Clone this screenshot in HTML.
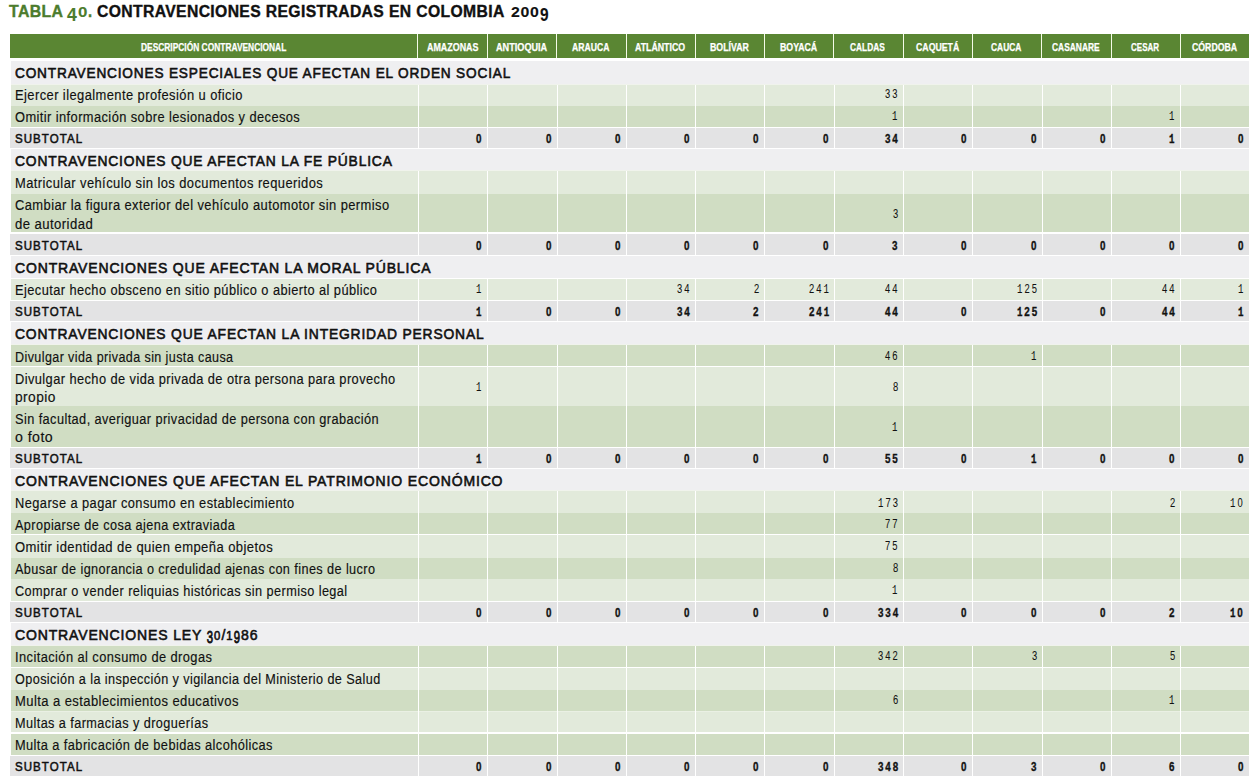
<!DOCTYPE html><html><head><meta charset="utf-8"><style>
html,body{margin:0;padding:0;background:#fff;width:1255px;height:782px;overflow:hidden;position:relative}
.r{position:absolute}
.t{position:absolute;white-space:nowrap;transform-origin:0 0}
.s{font-family:"Liberation Sans",sans-serif}.m{font-family:"Liberation Mono",monospace}
</style></head><body>
<div class="r" style="left:10px;top:34px;width:1239px;height:24px;background:#5a8633"></div>
<div class="r" style="left:417px;top:34px;width:1px;height:24px;background:#f4fbe8"></div>
<div class="r" style="left:487px;top:34px;width:1px;height:24px;background:#f4fbe8"></div>
<div class="r" style="left:556px;top:34px;width:1px;height:24px;background:#f4fbe8"></div>
<div class="r" style="left:626px;top:34px;width:1px;height:24px;background:#f4fbe8"></div>
<div class="r" style="left:695px;top:34px;width:1px;height:24px;background:#f4fbe8"></div>
<div class="r" style="left:764px;top:34px;width:1px;height:24px;background:#f4fbe8"></div>
<div class="r" style="left:833px;top:34px;width:1px;height:24px;background:#f4fbe8"></div>
<div class="r" style="left:903px;top:34px;width:1px;height:24px;background:#f4fbe8"></div>
<div class="r" style="left:972px;top:34px;width:1px;height:24px;background:#f4fbe8"></div>
<div class="r" style="left:1041px;top:34px;width:1px;height:24px;background:#f4fbe8"></div>
<div class="r" style="left:1111px;top:34px;width:1px;height:24px;background:#f4fbe8"></div>
<div class="r" style="left:1180px;top:34px;width:1px;height:24px;background:#f4fbe8"></div>
<div class="r" style="left:11px;top:61px;width:1238px;height:23px;background:#efeff1"></div>
<div class="r" style="left:11px;top:85px;width:407px;height:21px;background:#e2eadb"></div>
<div class="r" style="left:419px;top:85px;width:68px;height:21px;background:#e2eadb"></div>
<div class="r" style="left:488px;top:85px;width:69px;height:21px;background:#e2eadb"></div>
<div class="r" style="left:558px;top:85px;width:68px;height:21px;background:#e2eadb"></div>
<div class="r" style="left:627px;top:85px;width:68px;height:21px;background:#e2eadb"></div>
<div class="r" style="left:696px;top:85px;width:68px;height:21px;background:#e2eadb"></div>
<div class="r" style="left:765px;top:85px;width:69px;height:21px;background:#e2eadb"></div>
<div class="r" style="left:835px;top:85px;width:68px;height:21px;background:#e2eadb"></div>
<div class="r" style="left:904px;top:85px;width:68px;height:21px;background:#e2eadb"></div>
<div class="r" style="left:973px;top:85px;width:69px;height:21px;background:#e2eadb"></div>
<div class="r" style="left:1043px;top:85px;width:68px;height:21px;background:#e2eadb"></div>
<div class="r" style="left:1112px;top:85px;width:68px;height:21px;background:#e2eadb"></div>
<div class="r" style="left:1181px;top:85px;width:68px;height:21px;background:#e2eadb"></div>
<div class="r" style="left:11px;top:106px;width:407px;height:21px;background:#d0ddc3"></div>
<div class="r" style="left:419px;top:106px;width:68px;height:21px;background:#d0ddc3"></div>
<div class="r" style="left:488px;top:106px;width:69px;height:21px;background:#d0ddc3"></div>
<div class="r" style="left:558px;top:106px;width:68px;height:21px;background:#d0ddc3"></div>
<div class="r" style="left:627px;top:106px;width:68px;height:21px;background:#d0ddc3"></div>
<div class="r" style="left:696px;top:106px;width:68px;height:21px;background:#d0ddc3"></div>
<div class="r" style="left:765px;top:106px;width:69px;height:21px;background:#d0ddc3"></div>
<div class="r" style="left:835px;top:106px;width:68px;height:21px;background:#d0ddc3"></div>
<div class="r" style="left:904px;top:106px;width:68px;height:21px;background:#d0ddc3"></div>
<div class="r" style="left:973px;top:106px;width:69px;height:21px;background:#d0ddc3"></div>
<div class="r" style="left:1043px;top:106px;width:68px;height:21px;background:#d0ddc3"></div>
<div class="r" style="left:1112px;top:106px;width:68px;height:21px;background:#d0ddc3"></div>
<div class="r" style="left:1181px;top:106px;width:68px;height:21px;background:#d0ddc3"></div>
<div class="r" style="left:10px;top:128px;width:408px;height:20px;background:#e3e3e4"></div>
<div class="r" style="left:419px;top:128px;width:68px;height:20px;background:#e3e3e4"></div>
<div class="r" style="left:488px;top:128px;width:69px;height:20px;background:#e3e3e4"></div>
<div class="r" style="left:558px;top:128px;width:68px;height:20px;background:#e3e3e4"></div>
<div class="r" style="left:627px;top:128px;width:68px;height:20px;background:#e3e3e4"></div>
<div class="r" style="left:696px;top:128px;width:68px;height:20px;background:#e3e3e4"></div>
<div class="r" style="left:765px;top:128px;width:69px;height:20px;background:#e3e3e4"></div>
<div class="r" style="left:835px;top:128px;width:68px;height:20px;background:#e3e3e4"></div>
<div class="r" style="left:904px;top:128px;width:68px;height:20px;background:#e3e3e4"></div>
<div class="r" style="left:973px;top:128px;width:69px;height:20px;background:#e3e3e4"></div>
<div class="r" style="left:1043px;top:128px;width:68px;height:20px;background:#e3e3e4"></div>
<div class="r" style="left:1112px;top:128px;width:68px;height:20px;background:#e3e3e4"></div>
<div class="r" style="left:1181px;top:128px;width:68px;height:20px;background:#e3e3e4"></div>
<div class="r" style="left:11px;top:149px;width:1238px;height:21px;background:#efeff1"></div>
<div class="r" style="left:11px;top:171px;width:407px;height:23px;background:#e2eadb"></div>
<div class="r" style="left:419px;top:171px;width:68px;height:23px;background:#e2eadb"></div>
<div class="r" style="left:488px;top:171px;width:69px;height:23px;background:#e2eadb"></div>
<div class="r" style="left:558px;top:171px;width:68px;height:23px;background:#e2eadb"></div>
<div class="r" style="left:627px;top:171px;width:68px;height:23px;background:#e2eadb"></div>
<div class="r" style="left:696px;top:171px;width:68px;height:23px;background:#e2eadb"></div>
<div class="r" style="left:765px;top:171px;width:69px;height:23px;background:#e2eadb"></div>
<div class="r" style="left:835px;top:171px;width:68px;height:23px;background:#e2eadb"></div>
<div class="r" style="left:904px;top:171px;width:68px;height:23px;background:#e2eadb"></div>
<div class="r" style="left:973px;top:171px;width:69px;height:23px;background:#e2eadb"></div>
<div class="r" style="left:1043px;top:171px;width:68px;height:23px;background:#e2eadb"></div>
<div class="r" style="left:1112px;top:171px;width:68px;height:23px;background:#e2eadb"></div>
<div class="r" style="left:1181px;top:171px;width:68px;height:23px;background:#e2eadb"></div>
<div class="r" style="left:11px;top:194px;width:407px;height:38px;background:#d0ddc3"></div>
<div class="r" style="left:419px;top:194px;width:68px;height:38px;background:#d0ddc3"></div>
<div class="r" style="left:488px;top:194px;width:69px;height:38px;background:#d0ddc3"></div>
<div class="r" style="left:558px;top:194px;width:68px;height:38px;background:#d0ddc3"></div>
<div class="r" style="left:627px;top:194px;width:68px;height:38px;background:#d0ddc3"></div>
<div class="r" style="left:696px;top:194px;width:68px;height:38px;background:#d0ddc3"></div>
<div class="r" style="left:765px;top:194px;width:69px;height:38px;background:#d0ddc3"></div>
<div class="r" style="left:835px;top:194px;width:68px;height:38px;background:#d0ddc3"></div>
<div class="r" style="left:904px;top:194px;width:68px;height:38px;background:#d0ddc3"></div>
<div class="r" style="left:973px;top:194px;width:69px;height:38px;background:#d0ddc3"></div>
<div class="r" style="left:1043px;top:194px;width:68px;height:38px;background:#d0ddc3"></div>
<div class="r" style="left:1112px;top:194px;width:68px;height:38px;background:#d0ddc3"></div>
<div class="r" style="left:1181px;top:194px;width:68px;height:38px;background:#d0ddc3"></div>
<div class="r" style="left:10px;top:234px;width:408px;height:21px;background:#e3e3e4"></div>
<div class="r" style="left:419px;top:234px;width:68px;height:21px;background:#e3e3e4"></div>
<div class="r" style="left:488px;top:234px;width:69px;height:21px;background:#e3e3e4"></div>
<div class="r" style="left:558px;top:234px;width:68px;height:21px;background:#e3e3e4"></div>
<div class="r" style="left:627px;top:234px;width:68px;height:21px;background:#e3e3e4"></div>
<div class="r" style="left:696px;top:234px;width:68px;height:21px;background:#e3e3e4"></div>
<div class="r" style="left:765px;top:234px;width:69px;height:21px;background:#e3e3e4"></div>
<div class="r" style="left:835px;top:234px;width:68px;height:21px;background:#e3e3e4"></div>
<div class="r" style="left:904px;top:234px;width:68px;height:21px;background:#e3e3e4"></div>
<div class="r" style="left:973px;top:234px;width:69px;height:21px;background:#e3e3e4"></div>
<div class="r" style="left:1043px;top:234px;width:68px;height:21px;background:#e3e3e4"></div>
<div class="r" style="left:1112px;top:234px;width:68px;height:21px;background:#e3e3e4"></div>
<div class="r" style="left:1181px;top:234px;width:68px;height:21px;background:#e3e3e4"></div>
<div class="r" style="left:11px;top:256px;width:1238px;height:22px;background:#efeff1"></div>
<div class="r" style="left:11px;top:279px;width:407px;height:21px;background:#e2eadb"></div>
<div class="r" style="left:419px;top:279px;width:68px;height:21px;background:#e2eadb"></div>
<div class="r" style="left:488px;top:279px;width:69px;height:21px;background:#e2eadb"></div>
<div class="r" style="left:558px;top:279px;width:68px;height:21px;background:#e2eadb"></div>
<div class="r" style="left:627px;top:279px;width:68px;height:21px;background:#e2eadb"></div>
<div class="r" style="left:696px;top:279px;width:68px;height:21px;background:#e2eadb"></div>
<div class="r" style="left:765px;top:279px;width:69px;height:21px;background:#e2eadb"></div>
<div class="r" style="left:835px;top:279px;width:68px;height:21px;background:#e2eadb"></div>
<div class="r" style="left:904px;top:279px;width:68px;height:21px;background:#e2eadb"></div>
<div class="r" style="left:973px;top:279px;width:69px;height:21px;background:#e2eadb"></div>
<div class="r" style="left:1043px;top:279px;width:68px;height:21px;background:#e2eadb"></div>
<div class="r" style="left:1112px;top:279px;width:68px;height:21px;background:#e2eadb"></div>
<div class="r" style="left:1181px;top:279px;width:68px;height:21px;background:#e2eadb"></div>
<div class="r" style="left:10px;top:301px;width:408px;height:20px;background:#e3e3e4"></div>
<div class="r" style="left:419px;top:301px;width:68px;height:20px;background:#e3e3e4"></div>
<div class="r" style="left:488px;top:301px;width:69px;height:20px;background:#e3e3e4"></div>
<div class="r" style="left:558px;top:301px;width:68px;height:20px;background:#e3e3e4"></div>
<div class="r" style="left:627px;top:301px;width:68px;height:20px;background:#e3e3e4"></div>
<div class="r" style="left:696px;top:301px;width:68px;height:20px;background:#e3e3e4"></div>
<div class="r" style="left:765px;top:301px;width:69px;height:20px;background:#e3e3e4"></div>
<div class="r" style="left:835px;top:301px;width:68px;height:20px;background:#e3e3e4"></div>
<div class="r" style="left:904px;top:301px;width:68px;height:20px;background:#e3e3e4"></div>
<div class="r" style="left:973px;top:301px;width:69px;height:20px;background:#e3e3e4"></div>
<div class="r" style="left:1043px;top:301px;width:68px;height:20px;background:#e3e3e4"></div>
<div class="r" style="left:1112px;top:301px;width:68px;height:20px;background:#e3e3e4"></div>
<div class="r" style="left:1181px;top:301px;width:68px;height:20px;background:#e3e3e4"></div>
<div class="r" style="left:11px;top:322px;width:1238px;height:22px;background:#efeff1"></div>
<div class="r" style="left:11px;top:345px;width:407px;height:21px;background:#d0ddc3"></div>
<div class="r" style="left:419px;top:345px;width:68px;height:21px;background:#d0ddc3"></div>
<div class="r" style="left:488px;top:345px;width:69px;height:21px;background:#d0ddc3"></div>
<div class="r" style="left:558px;top:345px;width:68px;height:21px;background:#d0ddc3"></div>
<div class="r" style="left:627px;top:345px;width:68px;height:21px;background:#d0ddc3"></div>
<div class="r" style="left:696px;top:345px;width:68px;height:21px;background:#d0ddc3"></div>
<div class="r" style="left:765px;top:345px;width:69px;height:21px;background:#d0ddc3"></div>
<div class="r" style="left:835px;top:345px;width:68px;height:21px;background:#d0ddc3"></div>
<div class="r" style="left:904px;top:345px;width:68px;height:21px;background:#d0ddc3"></div>
<div class="r" style="left:973px;top:345px;width:69px;height:21px;background:#d0ddc3"></div>
<div class="r" style="left:1043px;top:345px;width:68px;height:21px;background:#d0ddc3"></div>
<div class="r" style="left:1112px;top:345px;width:68px;height:21px;background:#d0ddc3"></div>
<div class="r" style="left:1181px;top:345px;width:68px;height:21px;background:#d0ddc3"></div>
<div class="r" style="left:11px;top:367px;width:407px;height:39px;background:#e2eadb"></div>
<div class="r" style="left:419px;top:367px;width:68px;height:39px;background:#e2eadb"></div>
<div class="r" style="left:488px;top:367px;width:69px;height:39px;background:#e2eadb"></div>
<div class="r" style="left:558px;top:367px;width:68px;height:39px;background:#e2eadb"></div>
<div class="r" style="left:627px;top:367px;width:68px;height:39px;background:#e2eadb"></div>
<div class="r" style="left:696px;top:367px;width:68px;height:39px;background:#e2eadb"></div>
<div class="r" style="left:765px;top:367px;width:69px;height:39px;background:#e2eadb"></div>
<div class="r" style="left:835px;top:367px;width:68px;height:39px;background:#e2eadb"></div>
<div class="r" style="left:904px;top:367px;width:68px;height:39px;background:#e2eadb"></div>
<div class="r" style="left:973px;top:367px;width:69px;height:39px;background:#e2eadb"></div>
<div class="r" style="left:1043px;top:367px;width:68px;height:39px;background:#e2eadb"></div>
<div class="r" style="left:1112px;top:367px;width:68px;height:39px;background:#e2eadb"></div>
<div class="r" style="left:1181px;top:367px;width:68px;height:39px;background:#e2eadb"></div>
<div class="r" style="left:11px;top:406px;width:407px;height:41px;background:#d0ddc3"></div>
<div class="r" style="left:419px;top:406px;width:68px;height:41px;background:#d0ddc3"></div>
<div class="r" style="left:488px;top:406px;width:69px;height:41px;background:#d0ddc3"></div>
<div class="r" style="left:558px;top:406px;width:68px;height:41px;background:#d0ddc3"></div>
<div class="r" style="left:627px;top:406px;width:68px;height:41px;background:#d0ddc3"></div>
<div class="r" style="left:696px;top:406px;width:68px;height:41px;background:#d0ddc3"></div>
<div class="r" style="left:765px;top:406px;width:69px;height:41px;background:#d0ddc3"></div>
<div class="r" style="left:835px;top:406px;width:68px;height:41px;background:#d0ddc3"></div>
<div class="r" style="left:904px;top:406px;width:68px;height:41px;background:#d0ddc3"></div>
<div class="r" style="left:973px;top:406px;width:69px;height:41px;background:#d0ddc3"></div>
<div class="r" style="left:1043px;top:406px;width:68px;height:41px;background:#d0ddc3"></div>
<div class="r" style="left:1112px;top:406px;width:68px;height:41px;background:#d0ddc3"></div>
<div class="r" style="left:1181px;top:406px;width:68px;height:41px;background:#d0ddc3"></div>
<div class="r" style="left:10px;top:448px;width:408px;height:20px;background:#e3e3e4"></div>
<div class="r" style="left:419px;top:448px;width:68px;height:20px;background:#e3e3e4"></div>
<div class="r" style="left:488px;top:448px;width:69px;height:20px;background:#e3e3e4"></div>
<div class="r" style="left:558px;top:448px;width:68px;height:20px;background:#e3e3e4"></div>
<div class="r" style="left:627px;top:448px;width:68px;height:20px;background:#e3e3e4"></div>
<div class="r" style="left:696px;top:448px;width:68px;height:20px;background:#e3e3e4"></div>
<div class="r" style="left:765px;top:448px;width:69px;height:20px;background:#e3e3e4"></div>
<div class="r" style="left:835px;top:448px;width:68px;height:20px;background:#e3e3e4"></div>
<div class="r" style="left:904px;top:448px;width:68px;height:20px;background:#e3e3e4"></div>
<div class="r" style="left:973px;top:448px;width:69px;height:20px;background:#e3e3e4"></div>
<div class="r" style="left:1043px;top:448px;width:68px;height:20px;background:#e3e3e4"></div>
<div class="r" style="left:1112px;top:448px;width:68px;height:20px;background:#e3e3e4"></div>
<div class="r" style="left:1181px;top:448px;width:68px;height:20px;background:#e3e3e4"></div>
<div class="r" style="left:11px;top:469px;width:1238px;height:21px;background:#efeff1"></div>
<div class="r" style="left:11px;top:491px;width:407px;height:22px;background:#e2eadb"></div>
<div class="r" style="left:419px;top:491px;width:68px;height:22px;background:#e2eadb"></div>
<div class="r" style="left:488px;top:491px;width:69px;height:22px;background:#e2eadb"></div>
<div class="r" style="left:558px;top:491px;width:68px;height:22px;background:#e2eadb"></div>
<div class="r" style="left:627px;top:491px;width:68px;height:22px;background:#e2eadb"></div>
<div class="r" style="left:696px;top:491px;width:68px;height:22px;background:#e2eadb"></div>
<div class="r" style="left:765px;top:491px;width:69px;height:22px;background:#e2eadb"></div>
<div class="r" style="left:835px;top:491px;width:68px;height:22px;background:#e2eadb"></div>
<div class="r" style="left:904px;top:491px;width:68px;height:22px;background:#e2eadb"></div>
<div class="r" style="left:973px;top:491px;width:69px;height:22px;background:#e2eadb"></div>
<div class="r" style="left:1043px;top:491px;width:68px;height:22px;background:#e2eadb"></div>
<div class="r" style="left:1112px;top:491px;width:68px;height:22px;background:#e2eadb"></div>
<div class="r" style="left:1181px;top:491px;width:68px;height:22px;background:#e2eadb"></div>
<div class="r" style="left:11px;top:513px;width:407px;height:21px;background:#d0ddc3"></div>
<div class="r" style="left:419px;top:513px;width:68px;height:21px;background:#d0ddc3"></div>
<div class="r" style="left:488px;top:513px;width:69px;height:21px;background:#d0ddc3"></div>
<div class="r" style="left:558px;top:513px;width:68px;height:21px;background:#d0ddc3"></div>
<div class="r" style="left:627px;top:513px;width:68px;height:21px;background:#d0ddc3"></div>
<div class="r" style="left:696px;top:513px;width:68px;height:21px;background:#d0ddc3"></div>
<div class="r" style="left:765px;top:513px;width:69px;height:21px;background:#d0ddc3"></div>
<div class="r" style="left:835px;top:513px;width:68px;height:21px;background:#d0ddc3"></div>
<div class="r" style="left:904px;top:513px;width:68px;height:21px;background:#d0ddc3"></div>
<div class="r" style="left:973px;top:513px;width:69px;height:21px;background:#d0ddc3"></div>
<div class="r" style="left:1043px;top:513px;width:68px;height:21px;background:#d0ddc3"></div>
<div class="r" style="left:1112px;top:513px;width:68px;height:21px;background:#d0ddc3"></div>
<div class="r" style="left:1181px;top:513px;width:68px;height:21px;background:#d0ddc3"></div>
<div class="r" style="left:11px;top:535px;width:407px;height:23px;background:#e2eadb"></div>
<div class="r" style="left:419px;top:535px;width:68px;height:23px;background:#e2eadb"></div>
<div class="r" style="left:488px;top:535px;width:69px;height:23px;background:#e2eadb"></div>
<div class="r" style="left:558px;top:535px;width:68px;height:23px;background:#e2eadb"></div>
<div class="r" style="left:627px;top:535px;width:68px;height:23px;background:#e2eadb"></div>
<div class="r" style="left:696px;top:535px;width:68px;height:23px;background:#e2eadb"></div>
<div class="r" style="left:765px;top:535px;width:69px;height:23px;background:#e2eadb"></div>
<div class="r" style="left:835px;top:535px;width:68px;height:23px;background:#e2eadb"></div>
<div class="r" style="left:904px;top:535px;width:68px;height:23px;background:#e2eadb"></div>
<div class="r" style="left:973px;top:535px;width:69px;height:23px;background:#e2eadb"></div>
<div class="r" style="left:1043px;top:535px;width:68px;height:23px;background:#e2eadb"></div>
<div class="r" style="left:1112px;top:535px;width:68px;height:23px;background:#e2eadb"></div>
<div class="r" style="left:1181px;top:535px;width:68px;height:23px;background:#e2eadb"></div>
<div class="r" style="left:11px;top:558px;width:407px;height:21px;background:#d0ddc3"></div>
<div class="r" style="left:419px;top:558px;width:68px;height:21px;background:#d0ddc3"></div>
<div class="r" style="left:488px;top:558px;width:69px;height:21px;background:#d0ddc3"></div>
<div class="r" style="left:558px;top:558px;width:68px;height:21px;background:#d0ddc3"></div>
<div class="r" style="left:627px;top:558px;width:68px;height:21px;background:#d0ddc3"></div>
<div class="r" style="left:696px;top:558px;width:68px;height:21px;background:#d0ddc3"></div>
<div class="r" style="left:765px;top:558px;width:69px;height:21px;background:#d0ddc3"></div>
<div class="r" style="left:835px;top:558px;width:68px;height:21px;background:#d0ddc3"></div>
<div class="r" style="left:904px;top:558px;width:68px;height:21px;background:#d0ddc3"></div>
<div class="r" style="left:973px;top:558px;width:69px;height:21px;background:#d0ddc3"></div>
<div class="r" style="left:1043px;top:558px;width:68px;height:21px;background:#d0ddc3"></div>
<div class="r" style="left:1112px;top:558px;width:68px;height:21px;background:#d0ddc3"></div>
<div class="r" style="left:1181px;top:558px;width:68px;height:21px;background:#d0ddc3"></div>
<div class="r" style="left:11px;top:579px;width:407px;height:22px;background:#e2eadb"></div>
<div class="r" style="left:419px;top:579px;width:68px;height:22px;background:#e2eadb"></div>
<div class="r" style="left:488px;top:579px;width:69px;height:22px;background:#e2eadb"></div>
<div class="r" style="left:558px;top:579px;width:68px;height:22px;background:#e2eadb"></div>
<div class="r" style="left:627px;top:579px;width:68px;height:22px;background:#e2eadb"></div>
<div class="r" style="left:696px;top:579px;width:68px;height:22px;background:#e2eadb"></div>
<div class="r" style="left:765px;top:579px;width:69px;height:22px;background:#e2eadb"></div>
<div class="r" style="left:835px;top:579px;width:68px;height:22px;background:#e2eadb"></div>
<div class="r" style="left:904px;top:579px;width:68px;height:22px;background:#e2eadb"></div>
<div class="r" style="left:973px;top:579px;width:69px;height:22px;background:#e2eadb"></div>
<div class="r" style="left:1043px;top:579px;width:68px;height:22px;background:#e2eadb"></div>
<div class="r" style="left:1112px;top:579px;width:68px;height:22px;background:#e2eadb"></div>
<div class="r" style="left:1181px;top:579px;width:68px;height:22px;background:#e2eadb"></div>
<div class="r" style="left:10px;top:602px;width:408px;height:20px;background:#e3e3e4"></div>
<div class="r" style="left:419px;top:602px;width:68px;height:20px;background:#e3e3e4"></div>
<div class="r" style="left:488px;top:602px;width:69px;height:20px;background:#e3e3e4"></div>
<div class="r" style="left:558px;top:602px;width:68px;height:20px;background:#e3e3e4"></div>
<div class="r" style="left:627px;top:602px;width:68px;height:20px;background:#e3e3e4"></div>
<div class="r" style="left:696px;top:602px;width:68px;height:20px;background:#e3e3e4"></div>
<div class="r" style="left:765px;top:602px;width:69px;height:20px;background:#e3e3e4"></div>
<div class="r" style="left:835px;top:602px;width:68px;height:20px;background:#e3e3e4"></div>
<div class="r" style="left:904px;top:602px;width:68px;height:20px;background:#e3e3e4"></div>
<div class="r" style="left:973px;top:602px;width:69px;height:20px;background:#e3e3e4"></div>
<div class="r" style="left:1043px;top:602px;width:68px;height:20px;background:#e3e3e4"></div>
<div class="r" style="left:1112px;top:602px;width:68px;height:20px;background:#e3e3e4"></div>
<div class="r" style="left:1181px;top:602px;width:68px;height:20px;background:#e3e3e4"></div>
<div class="r" style="left:11px;top:623px;width:1238px;height:22px;background:#efeff1"></div>
<div class="r" style="left:11px;top:646px;width:407px;height:21px;background:#d0ddc3"></div>
<div class="r" style="left:419px;top:646px;width:68px;height:21px;background:#d0ddc3"></div>
<div class="r" style="left:488px;top:646px;width:69px;height:21px;background:#d0ddc3"></div>
<div class="r" style="left:558px;top:646px;width:68px;height:21px;background:#d0ddc3"></div>
<div class="r" style="left:627px;top:646px;width:68px;height:21px;background:#d0ddc3"></div>
<div class="r" style="left:696px;top:646px;width:68px;height:21px;background:#d0ddc3"></div>
<div class="r" style="left:765px;top:646px;width:69px;height:21px;background:#d0ddc3"></div>
<div class="r" style="left:835px;top:646px;width:68px;height:21px;background:#d0ddc3"></div>
<div class="r" style="left:904px;top:646px;width:68px;height:21px;background:#d0ddc3"></div>
<div class="r" style="left:973px;top:646px;width:69px;height:21px;background:#d0ddc3"></div>
<div class="r" style="left:1043px;top:646px;width:68px;height:21px;background:#d0ddc3"></div>
<div class="r" style="left:1112px;top:646px;width:68px;height:21px;background:#d0ddc3"></div>
<div class="r" style="left:1181px;top:646px;width:68px;height:21px;background:#d0ddc3"></div>
<div class="r" style="left:11px;top:668px;width:407px;height:22px;background:#e2eadb"></div>
<div class="r" style="left:419px;top:668px;width:68px;height:22px;background:#e2eadb"></div>
<div class="r" style="left:488px;top:668px;width:69px;height:22px;background:#e2eadb"></div>
<div class="r" style="left:558px;top:668px;width:68px;height:22px;background:#e2eadb"></div>
<div class="r" style="left:627px;top:668px;width:68px;height:22px;background:#e2eadb"></div>
<div class="r" style="left:696px;top:668px;width:68px;height:22px;background:#e2eadb"></div>
<div class="r" style="left:765px;top:668px;width:69px;height:22px;background:#e2eadb"></div>
<div class="r" style="left:835px;top:668px;width:68px;height:22px;background:#e2eadb"></div>
<div class="r" style="left:904px;top:668px;width:68px;height:22px;background:#e2eadb"></div>
<div class="r" style="left:973px;top:668px;width:69px;height:22px;background:#e2eadb"></div>
<div class="r" style="left:1043px;top:668px;width:68px;height:22px;background:#e2eadb"></div>
<div class="r" style="left:1112px;top:668px;width:68px;height:22px;background:#e2eadb"></div>
<div class="r" style="left:1181px;top:668px;width:68px;height:22px;background:#e2eadb"></div>
<div class="r" style="left:11px;top:690px;width:407px;height:21px;background:#d0ddc3"></div>
<div class="r" style="left:419px;top:690px;width:68px;height:21px;background:#d0ddc3"></div>
<div class="r" style="left:488px;top:690px;width:69px;height:21px;background:#d0ddc3"></div>
<div class="r" style="left:558px;top:690px;width:68px;height:21px;background:#d0ddc3"></div>
<div class="r" style="left:627px;top:690px;width:68px;height:21px;background:#d0ddc3"></div>
<div class="r" style="left:696px;top:690px;width:68px;height:21px;background:#d0ddc3"></div>
<div class="r" style="left:765px;top:690px;width:69px;height:21px;background:#d0ddc3"></div>
<div class="r" style="left:835px;top:690px;width:68px;height:21px;background:#d0ddc3"></div>
<div class="r" style="left:904px;top:690px;width:68px;height:21px;background:#d0ddc3"></div>
<div class="r" style="left:973px;top:690px;width:69px;height:21px;background:#d0ddc3"></div>
<div class="r" style="left:1043px;top:690px;width:68px;height:21px;background:#d0ddc3"></div>
<div class="r" style="left:1112px;top:690px;width:68px;height:21px;background:#d0ddc3"></div>
<div class="r" style="left:1181px;top:690px;width:68px;height:21px;background:#d0ddc3"></div>
<div class="r" style="left:11px;top:712px;width:407px;height:20px;background:#e2eadb"></div>
<div class="r" style="left:419px;top:712px;width:68px;height:20px;background:#e2eadb"></div>
<div class="r" style="left:488px;top:712px;width:69px;height:20px;background:#e2eadb"></div>
<div class="r" style="left:558px;top:712px;width:68px;height:20px;background:#e2eadb"></div>
<div class="r" style="left:627px;top:712px;width:68px;height:20px;background:#e2eadb"></div>
<div class="r" style="left:696px;top:712px;width:68px;height:20px;background:#e2eadb"></div>
<div class="r" style="left:765px;top:712px;width:69px;height:20px;background:#e2eadb"></div>
<div class="r" style="left:835px;top:712px;width:68px;height:20px;background:#e2eadb"></div>
<div class="r" style="left:904px;top:712px;width:68px;height:20px;background:#e2eadb"></div>
<div class="r" style="left:973px;top:712px;width:69px;height:20px;background:#e2eadb"></div>
<div class="r" style="left:1043px;top:712px;width:68px;height:20px;background:#e2eadb"></div>
<div class="r" style="left:1112px;top:712px;width:68px;height:20px;background:#e2eadb"></div>
<div class="r" style="left:1181px;top:712px;width:68px;height:20px;background:#e2eadb"></div>
<div class="r" style="left:11px;top:734px;width:407px;height:21px;background:#d0ddc3"></div>
<div class="r" style="left:419px;top:734px;width:68px;height:21px;background:#d0ddc3"></div>
<div class="r" style="left:488px;top:734px;width:69px;height:21px;background:#d0ddc3"></div>
<div class="r" style="left:558px;top:734px;width:68px;height:21px;background:#d0ddc3"></div>
<div class="r" style="left:627px;top:734px;width:68px;height:21px;background:#d0ddc3"></div>
<div class="r" style="left:696px;top:734px;width:68px;height:21px;background:#d0ddc3"></div>
<div class="r" style="left:765px;top:734px;width:69px;height:21px;background:#d0ddc3"></div>
<div class="r" style="left:835px;top:734px;width:68px;height:21px;background:#d0ddc3"></div>
<div class="r" style="left:904px;top:734px;width:68px;height:21px;background:#d0ddc3"></div>
<div class="r" style="left:973px;top:734px;width:69px;height:21px;background:#d0ddc3"></div>
<div class="r" style="left:1043px;top:734px;width:68px;height:21px;background:#d0ddc3"></div>
<div class="r" style="left:1112px;top:734px;width:68px;height:21px;background:#d0ddc3"></div>
<div class="r" style="left:1181px;top:734px;width:68px;height:21px;background:#d0ddc3"></div>
<div class="r" style="left:10px;top:756px;width:408px;height:20px;background:#e3e3e4"></div>
<div class="r" style="left:419px;top:756px;width:68px;height:20px;background:#e3e3e4"></div>
<div class="r" style="left:488px;top:756px;width:69px;height:20px;background:#e3e3e4"></div>
<div class="r" style="left:558px;top:756px;width:68px;height:20px;background:#e3e3e4"></div>
<div class="r" style="left:627px;top:756px;width:68px;height:20px;background:#e3e3e4"></div>
<div class="r" style="left:696px;top:756px;width:68px;height:20px;background:#e3e3e4"></div>
<div class="r" style="left:765px;top:756px;width:69px;height:20px;background:#e3e3e4"></div>
<div class="r" style="left:835px;top:756px;width:68px;height:20px;background:#e3e3e4"></div>
<div class="r" style="left:904px;top:756px;width:68px;height:20px;background:#e3e3e4"></div>
<div class="r" style="left:973px;top:756px;width:69px;height:20px;background:#e3e3e4"></div>
<div class="r" style="left:1043px;top:756px;width:68px;height:20px;background:#e3e3e4"></div>
<div class="r" style="left:1112px;top:756px;width:68px;height:20px;background:#e3e3e4"></div>
<div class="r" style="left:1181px;top:756px;width:68px;height:20px;background:#e3e3e4"></div>
<div class="r" style="left:11px;top:84px;width:1238px;height:1px;background:#f0f3ec"></div>
<div class="r" style="left:11px;top:170px;width:1238px;height:1px;background:#f0f3ec"></div>
<div class="r" style="left:11px;top:344px;width:1238px;height:1px;background:#f0f3ec"></div>
<div class="r" style="left:11px;top:490px;width:1238px;height:1px;background:#f0f3ec"></div>
<div class="r" style="left:11px;top:645px;width:1238px;height:1px;background:#f0f3ec"></div>
<div class="r" style="left:11px;top:711px;width:407px;height:1px;background:#eaf0e4"></div>
<div class="r" style="left:419px;top:711px;width:68px;height:1px;background:#eaf0e4"></div>
<div class="r" style="left:488px;top:711px;width:69px;height:1px;background:#eaf0e4"></div>
<div class="r" style="left:558px;top:711px;width:68px;height:1px;background:#eaf0e4"></div>
<div class="r" style="left:627px;top:711px;width:68px;height:1px;background:#eaf0e4"></div>
<div class="r" style="left:696px;top:711px;width:68px;height:1px;background:#eaf0e4"></div>
<div class="r" style="left:765px;top:711px;width:69px;height:1px;background:#eaf0e4"></div>
<div class="r" style="left:835px;top:711px;width:68px;height:1px;background:#eaf0e4"></div>
<div class="r" style="left:904px;top:711px;width:68px;height:1px;background:#eaf0e4"></div>
<div class="r" style="left:973px;top:711px;width:69px;height:1px;background:#eaf0e4"></div>
<div class="r" style="left:1043px;top:711px;width:68px;height:1px;background:#eaf0e4"></div>
<div class="r" style="left:1112px;top:711px;width:68px;height:1px;background:#eaf0e4"></div>
<div class="r" style="left:1181px;top:711px;width:68px;height:1px;background:#eaf0e4"></div>
<div class="t s" style="left:8.57px;top:3.27px;font-size:17.4px;line-height:17.4px;color:#4c7c2d;font-weight:bold;letter-spacing:0.4px;-webkit-text-stroke:0.4px #4c7c2d;transform:scaleX(0.9132)">TABLA</div>
<div class="t s" style="left:66.83px;top:5.71px;font-size:18.3px;line-height:18.3px;color:#4c7c2d;font-weight:bold;-webkit-text-stroke:0.1px #4c7c2d;transform:scaleX(0.9634)">4</div>
<div class="t s" style="left:78.15px;top:5.30px;font-size:14.3px;line-height:14.3px;color:#4c7c2d;font-weight:bold;-webkit-text-stroke:0.1px #4c7c2d;transform:scaleX(1.1819)">0</div>
<div class="t s" style="left:88.22px;top:3.27px;font-size:17.4px;line-height:17.4px;color:#4c7c2d;font-weight:bold;-webkit-text-stroke:0.4px #4c7c2d;transform:scaleX(0.8465)">.</div>
<div class="t s" style="left:96.98px;top:3.27px;font-size:17.4px;line-height:17.4px;color:#111;font-weight:bold;letter-spacing:0.4px;-webkit-text-stroke:0.4px #111;transform:scaleX(0.9038)">CONTRAVENCIONES REGISTRADAS EN COLOMBIA</div>
<div class="t s" style="left:510.51px;top:5.30px;font-size:14.3px;line-height:14.3px;color:#111;font-weight:bold;letter-spacing:0.6px;-webkit-text-stroke:0.1px #111;transform:scaleX(1.1095)">200</div>
<div class="t s" style="left:540.12px;top:5.91px;font-size:18.3px;line-height:18.3px;color:#111;font-weight:bold;-webkit-text-stroke:0.1px #111;transform:scaleX(0.8455)">9</div>
<div class="t s" style="left:140.88px;top:41.76px;font-size:10.8px;line-height:10.8px;color:#fff;font-weight:bold;-webkit-text-stroke:0.25px #fff;transform:scaleX(0.7772)">DESCRIPCIÓN CONTRAVENCIONAL</div>
<div class="t s" style="left:426.64px;top:41.76px;font-size:10.8px;line-height:10.8px;color:#fff;font-weight:bold;-webkit-text-stroke:0.25px #fff;transform:scaleX(0.8254)">AMAZONAS</div>
<div class="t s" style="left:495.72px;top:41.76px;font-size:10.8px;line-height:10.8px;color:#fff;font-weight:bold;-webkit-text-stroke:0.25px #fff;transform:scaleX(0.8450)">ANTIOQUIA</div>
<div class="t s" style="left:572.26px;top:41.76px;font-size:10.8px;line-height:10.8px;color:#fff;font-weight:bold;-webkit-text-stroke:0.25px #fff;transform:scaleX(0.7992)">ARAUCA</div>
<div class="t s" style="left:634.95px;top:41.76px;font-size:10.8px;line-height:10.8px;color:#fff;font-weight:bold;-webkit-text-stroke:0.25px #fff;transform:scaleX(0.8136)">ATLÁNTICO</div>
<div class="t s" style="left:710.35px;top:41.76px;font-size:10.8px;line-height:10.8px;color:#fff;font-weight:bold;-webkit-text-stroke:0.25px #fff;transform:scaleX(0.8139)">BOLÍVAR</div>
<div class="t s" style="left:780.45px;top:41.76px;font-size:10.8px;line-height:10.8px;color:#fff;font-weight:bold;-webkit-text-stroke:0.25px #fff;transform:scaleX(0.8123)">BOYACÁ</div>
<div class="t s" style="left:850.38px;top:41.76px;font-size:10.8px;line-height:10.8px;color:#fff;font-weight:bold;-webkit-text-stroke:0.25px #fff;transform:scaleX(0.7756)">CALDAS</div>
<div class="t s" style="left:915.75px;top:41.76px;font-size:10.8px;line-height:10.8px;color:#fff;font-weight:bold;-webkit-text-stroke:0.25px #fff;transform:scaleX(0.8110)">CAQUETÁ</div>
<div class="t s" style="left:991.28px;top:41.76px;font-size:10.8px;line-height:10.8px;color:#fff;font-weight:bold;-webkit-text-stroke:0.25px #fff;transform:scaleX(0.7795)">CAUCA</div>
<div class="t s" style="left:1051.88px;top:41.76px;font-size:10.8px;line-height:10.8px;color:#fff;font-weight:bold;-webkit-text-stroke:0.25px #fff;transform:scaleX(0.7796)">CASANARE</div>
<div class="t s" style="left:1130.81px;top:41.76px;font-size:10.8px;line-height:10.8px;color:#fff;font-weight:bold;-webkit-text-stroke:0.25px #fff;transform:scaleX(0.7434)">CESAR</div>
<div class="t s" style="left:1191.65px;top:41.76px;font-size:10.8px;line-height:10.8px;color:#fff;font-weight:bold;-webkit-text-stroke:0.25px #fff;transform:scaleX(0.8083)">CÓRDOBA</div>
<div class="t s" style="left:14.77px;top:65.99px;font-size:14.9px;line-height:14.9px;color:#111;letter-spacing:0.9px;-webkit-text-stroke:0.6px #111;transform:scaleX(0.9162)">CONTRAVENCIONES ESPECIALES QUE AFECTAN EL ORDEN SOCIAL</div>
<div class="t s" style="left:14.75px;top:89.12px;font-size:13.8px;line-height:13.8px;color:#111;letter-spacing:0.45px;-webkit-text-stroke:0.15px #111;transform:scaleX(0.9362)">Ejercer ilegalmente profesión u oficio</div>
<div class="t s" style="left:885.30px;top:88.35px;font-size:12.7px;line-height:12.7px;color:#111;letter-spacing:2.7px;-webkit-text-stroke:0.05px #111;transform:scaleX(0.7400)">33</div>
<div class="t s" style="left:14.76px;top:111.22px;font-size:13.8px;line-height:13.8px;color:#111;letter-spacing:0.45px;-webkit-text-stroke:0.15px #111;transform:scaleX(0.9312)">Omitir información sobre lesionados y decesos</div>
<div class="t s" style="left:892.33px;top:110.45px;font-size:12.7px;line-height:12.7px;color:#111;letter-spacing:2.7px;-webkit-text-stroke:0.05px #111;transform:scaleX(0.7400)"><span style="font-family:'Liberation Mono',monospace;font-size:12.2px">1</span></div>
<div class="t s" style="left:1169.33px;top:110.45px;font-size:12.7px;line-height:12.7px;color:#111;letter-spacing:2.7px;-webkit-text-stroke:0.05px #111;transform:scaleX(0.7400)"><span style="font-family:'Liberation Mono',monospace;font-size:12.2px">1</span></div>
<div class="t s" style="left:14.79px;top:131.70px;font-size:13px;line-height:13px;color:#111;letter-spacing:1.2px;-webkit-text-stroke:0.55px #111;transform:scaleX(0.8849)">SUBTOTAL</div>
<div class="t s" style="left:476.38px;top:131.61px;font-size:13.1px;line-height:13.1px;color:#111;font-weight:bold;letter-spacing:2.5px;-webkit-text-stroke:0.35px #111;transform:scaleX(0.7500)">0</div>
<div class="t s" style="left:546.38px;top:131.61px;font-size:13.1px;line-height:13.1px;color:#111;font-weight:bold;letter-spacing:2.5px;-webkit-text-stroke:0.35px #111;transform:scaleX(0.7500)">0</div>
<div class="t s" style="left:615.38px;top:131.61px;font-size:13.1px;line-height:13.1px;color:#111;font-weight:bold;letter-spacing:2.5px;-webkit-text-stroke:0.35px #111;transform:scaleX(0.7500)">0</div>
<div class="t s" style="left:684.38px;top:131.61px;font-size:13.1px;line-height:13.1px;color:#111;font-weight:bold;letter-spacing:2.5px;-webkit-text-stroke:0.35px #111;transform:scaleX(0.7500)">0</div>
<div class="t s" style="left:753.38px;top:131.61px;font-size:13.1px;line-height:13.1px;color:#111;font-weight:bold;letter-spacing:2.5px;-webkit-text-stroke:0.35px #111;transform:scaleX(0.7500)">0</div>
<div class="t s" style="left:823.38px;top:131.61px;font-size:13.1px;line-height:13.1px;color:#111;font-weight:bold;letter-spacing:2.5px;-webkit-text-stroke:0.35px #111;transform:scaleX(0.7500)">0</div>
<div class="t s" style="left:885.04px;top:131.61px;font-size:13.1px;line-height:13.1px;color:#111;font-weight:bold;letter-spacing:2.5px;-webkit-text-stroke:0.35px #111;transform:scaleX(0.7500)">34</div>
<div class="t s" style="left:961.38px;top:131.61px;font-size:13.1px;line-height:13.1px;color:#111;font-weight:bold;letter-spacing:2.5px;-webkit-text-stroke:0.35px #111;transform:scaleX(0.7500)">0</div>
<div class="t s" style="left:1031.38px;top:131.61px;font-size:13.1px;line-height:13.1px;color:#111;font-weight:bold;letter-spacing:2.5px;-webkit-text-stroke:0.35px #111;transform:scaleX(0.7500)">0</div>
<div class="t s" style="left:1100.38px;top:131.61px;font-size:13.1px;line-height:13.1px;color:#111;font-weight:bold;letter-spacing:2.5px;-webkit-text-stroke:0.35px #111;transform:scaleX(0.7500)">0</div>
<div class="t s" style="left:1169.35px;top:131.61px;font-size:13.1px;line-height:13.1px;color:#111;font-weight:bold;letter-spacing:2.5px;-webkit-text-stroke:0.35px #111;transform:scaleX(0.7500)"><span style="font-family:'Liberation Mono',monospace;font-size:12.2px">1</span></div>
<div class="t s" style="left:1237.68px;top:131.61px;font-size:13.1px;line-height:13.1px;color:#111;font-weight:bold;letter-spacing:2.5px;-webkit-text-stroke:0.35px #111;transform:scaleX(0.7500)">0</div>
<div class="t s" style="left:14.76px;top:153.99px;font-size:14.9px;line-height:14.9px;color:#111;letter-spacing:0.9px;-webkit-text-stroke:0.6px #111;transform:scaleX(0.9280)">CONTRAVENCIONES QUE AFECTAN LA FE PÚBLICA</div>
<div class="t s" style="left:14.75px;top:177.42px;font-size:13.8px;line-height:13.8px;color:#111;letter-spacing:0.45px;-webkit-text-stroke:0.15px #111;transform:scaleX(0.9374)">Matricular vehículo sin los documentos requeridos</div>
<div class="t s" style="left:14.75px;top:199.42px;font-size:13.8px;line-height:13.8px;color:#111;letter-spacing:0.45px;-webkit-text-stroke:0.15px #111;transform:scaleX(0.9360)">Cambiar la figura exterior del vehículo automotor sin permiso</div>
<div class="t s" style="left:14.74px;top:218.22px;font-size:13.8px;line-height:13.8px;color:#111;letter-spacing:0.45px;-webkit-text-stroke:0.15px #111;transform:scaleX(0.9513)">de autoridad</div>
<div class="t s" style="left:892.52px;top:207.65px;font-size:12.7px;line-height:12.7px;color:#111;letter-spacing:2.7px;-webkit-text-stroke:0.05px #111;transform:scaleX(0.7400)">3</div>
<div class="t s" style="left:14.79px;top:238.70px;font-size:13px;line-height:13px;color:#111;letter-spacing:1.2px;-webkit-text-stroke:0.55px #111;transform:scaleX(0.8849)">SUBTOTAL</div>
<div class="t s" style="left:476.38px;top:238.61px;font-size:13.1px;line-height:13.1px;color:#111;font-weight:bold;letter-spacing:2.5px;-webkit-text-stroke:0.35px #111;transform:scaleX(0.7500)">0</div>
<div class="t s" style="left:546.38px;top:238.61px;font-size:13.1px;line-height:13.1px;color:#111;font-weight:bold;letter-spacing:2.5px;-webkit-text-stroke:0.35px #111;transform:scaleX(0.7500)">0</div>
<div class="t s" style="left:615.38px;top:238.61px;font-size:13.1px;line-height:13.1px;color:#111;font-weight:bold;letter-spacing:2.5px;-webkit-text-stroke:0.35px #111;transform:scaleX(0.7500)">0</div>
<div class="t s" style="left:684.38px;top:238.61px;font-size:13.1px;line-height:13.1px;color:#111;font-weight:bold;letter-spacing:2.5px;-webkit-text-stroke:0.35px #111;transform:scaleX(0.7500)">0</div>
<div class="t s" style="left:753.38px;top:238.61px;font-size:13.1px;line-height:13.1px;color:#111;font-weight:bold;letter-spacing:2.5px;-webkit-text-stroke:0.35px #111;transform:scaleX(0.7500)">0</div>
<div class="t s" style="left:823.38px;top:238.61px;font-size:13.1px;line-height:13.1px;color:#111;font-weight:bold;letter-spacing:2.5px;-webkit-text-stroke:0.35px #111;transform:scaleX(0.7500)">0</div>
<div class="t s" style="left:892.38px;top:238.61px;font-size:13.1px;line-height:13.1px;color:#111;font-weight:bold;letter-spacing:2.5px;-webkit-text-stroke:0.35px #111;transform:scaleX(0.7500)">3</div>
<div class="t s" style="left:961.38px;top:238.61px;font-size:13.1px;line-height:13.1px;color:#111;font-weight:bold;letter-spacing:2.5px;-webkit-text-stroke:0.35px #111;transform:scaleX(0.7500)">0</div>
<div class="t s" style="left:1031.38px;top:238.61px;font-size:13.1px;line-height:13.1px;color:#111;font-weight:bold;letter-spacing:2.5px;-webkit-text-stroke:0.35px #111;transform:scaleX(0.7500)">0</div>
<div class="t s" style="left:1100.38px;top:238.61px;font-size:13.1px;line-height:13.1px;color:#111;font-weight:bold;letter-spacing:2.5px;-webkit-text-stroke:0.35px #111;transform:scaleX(0.7500)">0</div>
<div class="t s" style="left:1169.38px;top:238.61px;font-size:13.1px;line-height:13.1px;color:#111;font-weight:bold;letter-spacing:2.5px;-webkit-text-stroke:0.35px #111;transform:scaleX(0.7500)">0</div>
<div class="t s" style="left:1237.68px;top:238.61px;font-size:13.1px;line-height:13.1px;color:#111;font-weight:bold;letter-spacing:2.5px;-webkit-text-stroke:0.35px #111;transform:scaleX(0.7500)">0</div>
<div class="t s" style="left:14.75px;top:260.99px;font-size:14.9px;line-height:14.9px;color:#111;letter-spacing:0.9px;-webkit-text-stroke:0.6px #111;transform:scaleX(0.9396)">CONTRAVENCIONES QUE AFECTAN LA MORAL PÚBLICA</div>
<div class="t s" style="left:14.76px;top:284.02px;font-size:13.8px;line-height:13.8px;color:#111;letter-spacing:0.45px;-webkit-text-stroke:0.15px #111;transform:scaleX(0.9298)">Ejecutar hecho obsceno en sitio público o abierto al público</div>
<div class="t s" style="left:476.33px;top:283.25px;font-size:12.7px;line-height:12.7px;color:#111;letter-spacing:2.7px;-webkit-text-stroke:0.05px #111;transform:scaleX(0.7400)"><span style="font-family:'Liberation Mono',monospace;font-size:12.2px">1</span></div>
<div class="t s" style="left:677.30px;top:283.25px;font-size:12.7px;line-height:12.7px;color:#111;letter-spacing:2.7px;-webkit-text-stroke:0.05px #111;transform:scaleX(0.7400)">34</div>
<div class="t s" style="left:753.52px;top:283.25px;font-size:12.7px;line-height:12.7px;color:#111;letter-spacing:2.7px;-webkit-text-stroke:0.05px #111;transform:scaleX(0.7400)">2</div>
<div class="t s" style="left:808.89px;top:283.25px;font-size:12.7px;line-height:12.7px;color:#111;letter-spacing:2.7px;-webkit-text-stroke:0.05px #111;transform:scaleX(0.7400)">24<span style="font-family:'Liberation Mono',monospace;font-size:12.2px">1</span></div>
<div class="t s" style="left:885.30px;top:283.25px;font-size:12.7px;line-height:12.7px;color:#111;letter-spacing:2.7px;-webkit-text-stroke:0.05px #111;transform:scaleX(0.7400)">44</div>
<div class="t s" style="left:1016.89px;top:283.25px;font-size:12.7px;line-height:12.7px;color:#111;letter-spacing:2.7px;-webkit-text-stroke:0.05px #111;transform:scaleX(0.7400)"><span style="font-family:'Liberation Mono',monospace;font-size:12.2px">1</span>25</div>
<div class="t s" style="left:1162.30px;top:283.25px;font-size:12.7px;line-height:12.7px;color:#111;letter-spacing:2.7px;-webkit-text-stroke:0.05px #111;transform:scaleX(0.7400)">44</div>
<div class="t s" style="left:1237.63px;top:283.25px;font-size:12.7px;line-height:12.7px;color:#111;letter-spacing:2.7px;-webkit-text-stroke:0.05px #111;transform:scaleX(0.7400)"><span style="font-family:'Liberation Mono',monospace;font-size:12.2px">1</span></div>
<div class="t s" style="left:14.79px;top:304.80px;font-size:13px;line-height:13px;color:#111;letter-spacing:1.2px;-webkit-text-stroke:0.55px #111;transform:scaleX(0.8849)">SUBTOTAL</div>
<div class="t s" style="left:476.35px;top:304.71px;font-size:13.1px;line-height:13.1px;color:#111;font-weight:bold;letter-spacing:2.5px;-webkit-text-stroke:0.35px #111;transform:scaleX(0.7500)"><span style="font-family:'Liberation Mono',monospace;font-size:12.2px">1</span></div>
<div class="t s" style="left:546.38px;top:304.71px;font-size:13.1px;line-height:13.1px;color:#111;font-weight:bold;letter-spacing:2.5px;-webkit-text-stroke:0.35px #111;transform:scaleX(0.7500)">0</div>
<div class="t s" style="left:615.38px;top:304.71px;font-size:13.1px;line-height:13.1px;color:#111;font-weight:bold;letter-spacing:2.5px;-webkit-text-stroke:0.35px #111;transform:scaleX(0.7500)">0</div>
<div class="t s" style="left:677.04px;top:304.71px;font-size:13.1px;line-height:13.1px;color:#111;font-weight:bold;letter-spacing:2.5px;-webkit-text-stroke:0.35px #111;transform:scaleX(0.7500)">34</div>
<div class="t s" style="left:753.38px;top:304.71px;font-size:13.1px;line-height:13.1px;color:#111;font-weight:bold;letter-spacing:2.5px;-webkit-text-stroke:0.35px #111;transform:scaleX(0.7500)">2</div>
<div class="t s" style="left:808.67px;top:304.71px;font-size:13.1px;line-height:13.1px;color:#111;font-weight:bold;letter-spacing:2.5px;-webkit-text-stroke:0.35px #111;transform:scaleX(0.7500)">24<span style="font-family:'Liberation Mono',monospace;font-size:12.2px">1</span></div>
<div class="t s" style="left:885.04px;top:304.71px;font-size:13.1px;line-height:13.1px;color:#111;font-weight:bold;letter-spacing:2.5px;-webkit-text-stroke:0.35px #111;transform:scaleX(0.7500)">44</div>
<div class="t s" style="left:961.38px;top:304.71px;font-size:13.1px;line-height:13.1px;color:#111;font-weight:bold;letter-spacing:2.5px;-webkit-text-stroke:0.35px #111;transform:scaleX(0.7500)">0</div>
<div class="t s" style="left:1016.67px;top:304.71px;font-size:13.1px;line-height:13.1px;color:#111;font-weight:bold;letter-spacing:2.5px;-webkit-text-stroke:0.35px #111;transform:scaleX(0.7500)"><span style="font-family:'Liberation Mono',monospace;font-size:12.2px">1</span>25</div>
<div class="t s" style="left:1100.38px;top:304.71px;font-size:13.1px;line-height:13.1px;color:#111;font-weight:bold;letter-spacing:2.5px;-webkit-text-stroke:0.35px #111;transform:scaleX(0.7500)">0</div>
<div class="t s" style="left:1162.04px;top:304.71px;font-size:13.1px;line-height:13.1px;color:#111;font-weight:bold;letter-spacing:2.5px;-webkit-text-stroke:0.35px #111;transform:scaleX(0.7500)">44</div>
<div class="t s" style="left:1237.65px;top:304.71px;font-size:13.1px;line-height:13.1px;color:#111;font-weight:bold;letter-spacing:2.5px;-webkit-text-stroke:0.35px #111;transform:scaleX(0.7500)"><span style="font-family:'Liberation Mono',monospace;font-size:12.2px">1</span></div>
<div class="t s" style="left:14.76px;top:326.99px;font-size:14.9px;line-height:14.9px;color:#111;letter-spacing:0.9px;-webkit-text-stroke:0.6px #111;transform:scaleX(0.9292)">CONTRAVENCIONES QUE AFECTAN LA INTEGRIDAD PERSONAL</div>
<div class="t s" style="left:14.77px;top:350.52px;font-size:13.8px;line-height:13.8px;color:#111;letter-spacing:0.45px;-webkit-text-stroke:0.15px #111;transform:scaleX(0.9082)">Divulgar vida privada sin justa causa</div>
<div class="t s" style="left:885.30px;top:349.75px;font-size:12.7px;line-height:12.7px;color:#111;letter-spacing:2.7px;-webkit-text-stroke:0.05px #111;transform:scaleX(0.7400)">46</div>
<div class="t s" style="left:1031.33px;top:349.75px;font-size:12.7px;line-height:12.7px;color:#111;letter-spacing:2.7px;-webkit-text-stroke:0.05px #111;transform:scaleX(0.7400)"><span style="font-family:'Liberation Mono',monospace;font-size:12.2px">1</span></div>
<div class="t s" style="left:14.76px;top:372.52px;font-size:13.8px;line-height:13.8px;color:#111;letter-spacing:0.45px;-webkit-text-stroke:0.15px #111;transform:scaleX(0.9304)">Divulgar hecho de vida privada de otra persona para provecho</div>
<div class="t s" style="left:14.70px;top:390.52px;font-size:13.8px;line-height:13.8px;color:#111;letter-spacing:0.45px;-webkit-text-stroke:0.15px #111;transform:scaleX(0.9948)">propio</div>
<div class="t s" style="left:476.33px;top:381.15px;font-size:12.7px;line-height:12.7px;color:#111;letter-spacing:2.7px;-webkit-text-stroke:0.05px #111;transform:scaleX(0.7400)"><span style="font-family:'Liberation Mono',monospace;font-size:12.2px">1</span></div>
<div class="t s" style="left:892.52px;top:381.15px;font-size:12.7px;line-height:12.7px;color:#111;letter-spacing:2.7px;-webkit-text-stroke:0.05px #111;transform:scaleX(0.7400)">8</div>
<div class="t s" style="left:14.76px;top:412.72px;font-size:13.8px;line-height:13.8px;color:#111;letter-spacing:0.45px;-webkit-text-stroke:0.15px #111;transform:scaleX(0.9243)">Sin facultad, averiguar privacidad de persona con grabación</div>
<div class="t s" style="left:14.68px;top:430.92px;font-size:13.8px;line-height:13.8px;color:#111;letter-spacing:0.45px;-webkit-text-stroke:0.15px #111;transform:scaleX(1.0249)">o foto</div>
<div class="t s" style="left:892.33px;top:421.15px;font-size:12.7px;line-height:12.7px;color:#111;letter-spacing:2.7px;-webkit-text-stroke:0.05px #111;transform:scaleX(0.7400)"><span style="font-family:'Liberation Mono',monospace;font-size:12.2px">1</span></div>
<div class="t s" style="left:14.79px;top:451.80px;font-size:13px;line-height:13px;color:#111;letter-spacing:1.2px;-webkit-text-stroke:0.55px #111;transform:scaleX(0.8849)">SUBTOTAL</div>
<div class="t s" style="left:476.35px;top:451.71px;font-size:13.1px;line-height:13.1px;color:#111;font-weight:bold;letter-spacing:2.5px;-webkit-text-stroke:0.35px #111;transform:scaleX(0.7500)"><span style="font-family:'Liberation Mono',monospace;font-size:12.2px">1</span></div>
<div class="t s" style="left:546.38px;top:451.71px;font-size:13.1px;line-height:13.1px;color:#111;font-weight:bold;letter-spacing:2.5px;-webkit-text-stroke:0.35px #111;transform:scaleX(0.7500)">0</div>
<div class="t s" style="left:615.38px;top:451.71px;font-size:13.1px;line-height:13.1px;color:#111;font-weight:bold;letter-spacing:2.5px;-webkit-text-stroke:0.35px #111;transform:scaleX(0.7500)">0</div>
<div class="t s" style="left:684.38px;top:451.71px;font-size:13.1px;line-height:13.1px;color:#111;font-weight:bold;letter-spacing:2.5px;-webkit-text-stroke:0.35px #111;transform:scaleX(0.7500)">0</div>
<div class="t s" style="left:753.38px;top:451.71px;font-size:13.1px;line-height:13.1px;color:#111;font-weight:bold;letter-spacing:2.5px;-webkit-text-stroke:0.35px #111;transform:scaleX(0.7500)">0</div>
<div class="t s" style="left:823.38px;top:451.71px;font-size:13.1px;line-height:13.1px;color:#111;font-weight:bold;letter-spacing:2.5px;-webkit-text-stroke:0.35px #111;transform:scaleX(0.7500)">0</div>
<div class="t s" style="left:885.04px;top:451.71px;font-size:13.1px;line-height:13.1px;color:#111;font-weight:bold;letter-spacing:2.5px;-webkit-text-stroke:0.35px #111;transform:scaleX(0.7500)">55</div>
<div class="t s" style="left:961.38px;top:451.71px;font-size:13.1px;line-height:13.1px;color:#111;font-weight:bold;letter-spacing:2.5px;-webkit-text-stroke:0.35px #111;transform:scaleX(0.7500)">0</div>
<div class="t s" style="left:1031.35px;top:451.71px;font-size:13.1px;line-height:13.1px;color:#111;font-weight:bold;letter-spacing:2.5px;-webkit-text-stroke:0.35px #111;transform:scaleX(0.7500)"><span style="font-family:'Liberation Mono',monospace;font-size:12.2px">1</span></div>
<div class="t s" style="left:1100.38px;top:451.71px;font-size:13.1px;line-height:13.1px;color:#111;font-weight:bold;letter-spacing:2.5px;-webkit-text-stroke:0.35px #111;transform:scaleX(0.7500)">0</div>
<div class="t s" style="left:1169.38px;top:451.71px;font-size:13.1px;line-height:13.1px;color:#111;font-weight:bold;letter-spacing:2.5px;-webkit-text-stroke:0.35px #111;transform:scaleX(0.7500)">0</div>
<div class="t s" style="left:1237.68px;top:451.71px;font-size:13.1px;line-height:13.1px;color:#111;font-weight:bold;letter-spacing:2.5px;-webkit-text-stroke:0.35px #111;transform:scaleX(0.7500)">0</div>
<div class="t s" style="left:14.75px;top:473.99px;font-size:14.9px;line-height:14.9px;color:#111;letter-spacing:0.9px;-webkit-text-stroke:0.6px #111;transform:scaleX(0.9407)">CONTRAVENCIONES QUE AFECTAN EL PATRIMONIO ECONÓMICO</div>
<div class="t s" style="left:14.76px;top:497.32px;font-size:13.8px;line-height:13.8px;color:#111;letter-spacing:0.45px;-webkit-text-stroke:0.15px #111;transform:scaleX(0.9309)">Negarse a pagar consumo en establecimiento</div>
<div class="t s" style="left:877.89px;top:496.55px;font-size:12.7px;line-height:12.7px;color:#111;letter-spacing:2.7px;-webkit-text-stroke:0.05px #111;transform:scaleX(0.7400)"><span style="font-family:'Liberation Mono',monospace;font-size:12.2px">1</span>73</div>
<div class="t s" style="left:1169.52px;top:496.55px;font-size:12.7px;line-height:12.7px;color:#111;letter-spacing:2.7px;-webkit-text-stroke:0.05px #111;transform:scaleX(0.7400)">2</div>
<div class="t s" style="left:1230.40px;top:496.55px;font-size:12.7px;line-height:12.7px;color:#111;letter-spacing:2.7px;-webkit-text-stroke:0.05px #111;transform:scaleX(0.7400)"><span style="font-family:'Liberation Mono',monospace;font-size:12.2px">1</span>0</div>
<div class="t s" style="left:14.77px;top:519.12px;font-size:13.8px;line-height:13.8px;color:#111;letter-spacing:0.45px;-webkit-text-stroke:0.15px #111;transform:scaleX(0.9186)">Apropiarse de cosa ajena extraviada</div>
<div class="t s" style="left:885.30px;top:518.35px;font-size:12.7px;line-height:12.7px;color:#111;letter-spacing:2.7px;-webkit-text-stroke:0.05px #111;transform:scaleX(0.7400)">77</div>
<div class="t s" style="left:14.74px;top:541.22px;font-size:13.8px;line-height:13.8px;color:#111;letter-spacing:0.45px;-webkit-text-stroke:0.15px #111;transform:scaleX(0.9441)">Omitir identidad de quien empeña objetos</div>
<div class="t s" style="left:885.30px;top:540.45px;font-size:12.7px;line-height:12.7px;color:#111;letter-spacing:2.7px;-webkit-text-stroke:0.05px #111;transform:scaleX(0.7400)">75</div>
<div class="t s" style="left:14.77px;top:563.12px;font-size:13.8px;line-height:13.8px;color:#111;letter-spacing:0.45px;-webkit-text-stroke:0.15px #111;transform:scaleX(0.9185)">Abusar de ignorancia o credulidad ajenas con fines de lucro</div>
<div class="t s" style="left:892.52px;top:562.35px;font-size:12.7px;line-height:12.7px;color:#111;letter-spacing:2.7px;-webkit-text-stroke:0.05px #111;transform:scaleX(0.7400)">8</div>
<div class="t s" style="left:14.76px;top:584.92px;font-size:13.8px;line-height:13.8px;color:#111;letter-spacing:0.45px;-webkit-text-stroke:0.15px #111;transform:scaleX(0.9223)">Comprar o vender reliquias históricas sin permiso legal</div>
<div class="t s" style="left:892.33px;top:584.15px;font-size:12.7px;line-height:12.7px;color:#111;letter-spacing:2.7px;-webkit-text-stroke:0.05px #111;transform:scaleX(0.7400)"><span style="font-family:'Liberation Mono',monospace;font-size:12.2px">1</span></div>
<div class="t s" style="left:14.79px;top:605.80px;font-size:13px;line-height:13px;color:#111;letter-spacing:1.2px;-webkit-text-stroke:0.55px #111;transform:scaleX(0.8849)">SUBTOTAL</div>
<div class="t s" style="left:476.38px;top:605.71px;font-size:13.1px;line-height:13.1px;color:#111;font-weight:bold;letter-spacing:2.5px;-webkit-text-stroke:0.35px #111;transform:scaleX(0.7500)">0</div>
<div class="t s" style="left:546.38px;top:605.71px;font-size:13.1px;line-height:13.1px;color:#111;font-weight:bold;letter-spacing:2.5px;-webkit-text-stroke:0.35px #111;transform:scaleX(0.7500)">0</div>
<div class="t s" style="left:615.38px;top:605.71px;font-size:13.1px;line-height:13.1px;color:#111;font-weight:bold;letter-spacing:2.5px;-webkit-text-stroke:0.35px #111;transform:scaleX(0.7500)">0</div>
<div class="t s" style="left:684.38px;top:605.71px;font-size:13.1px;line-height:13.1px;color:#111;font-weight:bold;letter-spacing:2.5px;-webkit-text-stroke:0.35px #111;transform:scaleX(0.7500)">0</div>
<div class="t s" style="left:753.38px;top:605.71px;font-size:13.1px;line-height:13.1px;color:#111;font-weight:bold;letter-spacing:2.5px;-webkit-text-stroke:0.35px #111;transform:scaleX(0.7500)">0</div>
<div class="t s" style="left:823.38px;top:605.71px;font-size:13.1px;line-height:13.1px;color:#111;font-weight:bold;letter-spacing:2.5px;-webkit-text-stroke:0.35px #111;transform:scaleX(0.7500)">0</div>
<div class="t s" style="left:877.71px;top:605.71px;font-size:13.1px;line-height:13.1px;color:#111;font-weight:bold;letter-spacing:2.5px;-webkit-text-stroke:0.35px #111;transform:scaleX(0.7500)">334</div>
<div class="t s" style="left:961.38px;top:605.71px;font-size:13.1px;line-height:13.1px;color:#111;font-weight:bold;letter-spacing:2.5px;-webkit-text-stroke:0.35px #111;transform:scaleX(0.7500)">0</div>
<div class="t s" style="left:1031.38px;top:605.71px;font-size:13.1px;line-height:13.1px;color:#111;font-weight:bold;letter-spacing:2.5px;-webkit-text-stroke:0.35px #111;transform:scaleX(0.7500)">0</div>
<div class="t s" style="left:1100.38px;top:605.71px;font-size:13.1px;line-height:13.1px;color:#111;font-weight:bold;letter-spacing:2.5px;-webkit-text-stroke:0.35px #111;transform:scaleX(0.7500)">0</div>
<div class="t s" style="left:1169.38px;top:605.71px;font-size:13.1px;line-height:13.1px;color:#111;font-weight:bold;letter-spacing:2.5px;-webkit-text-stroke:0.35px #111;transform:scaleX(0.7500)">2</div>
<div class="t s" style="left:1230.31px;top:605.71px;font-size:13.1px;line-height:13.1px;color:#111;font-weight:bold;letter-spacing:2.5px;-webkit-text-stroke:0.35px #111;transform:scaleX(0.7500)"><span style="font-family:'Liberation Mono',monospace;font-size:12.2px">1</span>0</div>
<div class="t s" style="left:14.75px;top:627.99px;font-size:14.9px;line-height:14.9px;color:#111;letter-spacing:0.9px;-webkit-text-stroke:0.6px #111;transform:scaleX(0.9412)">CONTRAVENCIONES LEY <span style="display:inline-block;font-size:12px;line-height:12px;letter-spacing:1.2px;transform-origin:50% 1.7px;transform:scaleY(1.4)">3</span><span style="font-size:12px;letter-spacing:1.2px">0</span>/<span style="font-size:12px;letter-spacing:1.2px">1</span><span style="display:inline-block;font-size:12px;line-height:12px;letter-spacing:1.2px;transform-origin:50% 1.7px;transform:scaleY(1.4)">9</span>86</div>
<div class="t s" style="left:14.75px;top:651.22px;font-size:13.8px;line-height:13.8px;color:#111;letter-spacing:0.45px;-webkit-text-stroke:0.15px #111;transform:scaleX(0.9315)">Incitación al consumo de drogas</div>
<div class="t s" style="left:878.07px;top:650.45px;font-size:12.7px;line-height:12.7px;color:#111;letter-spacing:2.7px;-webkit-text-stroke:0.05px #111;transform:scaleX(0.7400)">342</div>
<div class="t s" style="left:1031.52px;top:650.45px;font-size:12.7px;line-height:12.7px;color:#111;letter-spacing:2.7px;-webkit-text-stroke:0.05px #111;transform:scaleX(0.7400)">3</div>
<div class="t s" style="left:1169.52px;top:650.45px;font-size:12.7px;line-height:12.7px;color:#111;letter-spacing:2.7px;-webkit-text-stroke:0.05px #111;transform:scaleX(0.7400)">5</div>
<div class="t s" style="left:14.77px;top:673.12px;font-size:13.8px;line-height:13.8px;color:#111;letter-spacing:0.45px;-webkit-text-stroke:0.15px #111;transform:scaleX(0.9161)">Oposición a la inspección y vigilancia del Ministerio de Salud</div>
<div class="t s" style="left:14.75px;top:695.02px;font-size:13.8px;line-height:13.8px;color:#111;letter-spacing:0.45px;-webkit-text-stroke:0.15px #111;transform:scaleX(0.9429)">Multa a establecimientos educativos</div>
<div class="t s" style="left:892.52px;top:694.25px;font-size:12.7px;line-height:12.7px;color:#111;letter-spacing:2.7px;-webkit-text-stroke:0.05px #111;transform:scaleX(0.7400)">6</div>
<div class="t s" style="left:1169.33px;top:694.25px;font-size:12.7px;line-height:12.7px;color:#111;letter-spacing:2.7px;-webkit-text-stroke:0.05px #111;transform:scaleX(0.7400)"><span style="font-family:'Liberation Mono',monospace;font-size:12.2px">1</span></div>
<div class="t s" style="left:14.76px;top:716.92px;font-size:13.8px;line-height:13.8px;color:#111;letter-spacing:0.45px;-webkit-text-stroke:0.15px #111;transform:scaleX(0.9203)">Multas a farmacias y droguerías</div>
<div class="t s" style="left:14.76px;top:738.82px;font-size:13.8px;line-height:13.8px;color:#111;letter-spacing:0.45px;-webkit-text-stroke:0.15px #111;transform:scaleX(0.9273)">Multa a fabricación de bebidas alcohólicas</div>
<div class="t s" style="left:14.79px;top:760.10px;font-size:13px;line-height:13px;color:#111;letter-spacing:1.2px;-webkit-text-stroke:0.55px #111;transform:scaleX(0.8849)">SUBTOTAL</div>
<div class="t s" style="left:476.38px;top:760.01px;font-size:13.1px;line-height:13.1px;color:#111;font-weight:bold;letter-spacing:2.5px;-webkit-text-stroke:0.35px #111;transform:scaleX(0.7500)">0</div>
<div class="t s" style="left:546.38px;top:760.01px;font-size:13.1px;line-height:13.1px;color:#111;font-weight:bold;letter-spacing:2.5px;-webkit-text-stroke:0.35px #111;transform:scaleX(0.7500)">0</div>
<div class="t s" style="left:615.38px;top:760.01px;font-size:13.1px;line-height:13.1px;color:#111;font-weight:bold;letter-spacing:2.5px;-webkit-text-stroke:0.35px #111;transform:scaleX(0.7500)">0</div>
<div class="t s" style="left:684.38px;top:760.01px;font-size:13.1px;line-height:13.1px;color:#111;font-weight:bold;letter-spacing:2.5px;-webkit-text-stroke:0.35px #111;transform:scaleX(0.7500)">0</div>
<div class="t s" style="left:753.38px;top:760.01px;font-size:13.1px;line-height:13.1px;color:#111;font-weight:bold;letter-spacing:2.5px;-webkit-text-stroke:0.35px #111;transform:scaleX(0.7500)">0</div>
<div class="t s" style="left:823.38px;top:760.01px;font-size:13.1px;line-height:13.1px;color:#111;font-weight:bold;letter-spacing:2.5px;-webkit-text-stroke:0.35px #111;transform:scaleX(0.7500)">0</div>
<div class="t s" style="left:877.71px;top:760.01px;font-size:13.1px;line-height:13.1px;color:#111;font-weight:bold;letter-spacing:2.5px;-webkit-text-stroke:0.35px #111;transform:scaleX(0.7500)">348</div>
<div class="t s" style="left:961.38px;top:760.01px;font-size:13.1px;line-height:13.1px;color:#111;font-weight:bold;letter-spacing:2.5px;-webkit-text-stroke:0.35px #111;transform:scaleX(0.7500)">0</div>
<div class="t s" style="left:1031.38px;top:760.01px;font-size:13.1px;line-height:13.1px;color:#111;font-weight:bold;letter-spacing:2.5px;-webkit-text-stroke:0.35px #111;transform:scaleX(0.7500)">3</div>
<div class="t s" style="left:1100.38px;top:760.01px;font-size:13.1px;line-height:13.1px;color:#111;font-weight:bold;letter-spacing:2.5px;-webkit-text-stroke:0.35px #111;transform:scaleX(0.7500)">0</div>
<div class="t s" style="left:1169.38px;top:760.01px;font-size:13.1px;line-height:13.1px;color:#111;font-weight:bold;letter-spacing:2.5px;-webkit-text-stroke:0.35px #111;transform:scaleX(0.7500)">6</div>
<div class="t s" style="left:1237.68px;top:760.01px;font-size:13.1px;line-height:13.1px;color:#111;font-weight:bold;letter-spacing:2.5px;-webkit-text-stroke:0.35px #111;transform:scaleX(0.7500)">0</div>
</body></html>
